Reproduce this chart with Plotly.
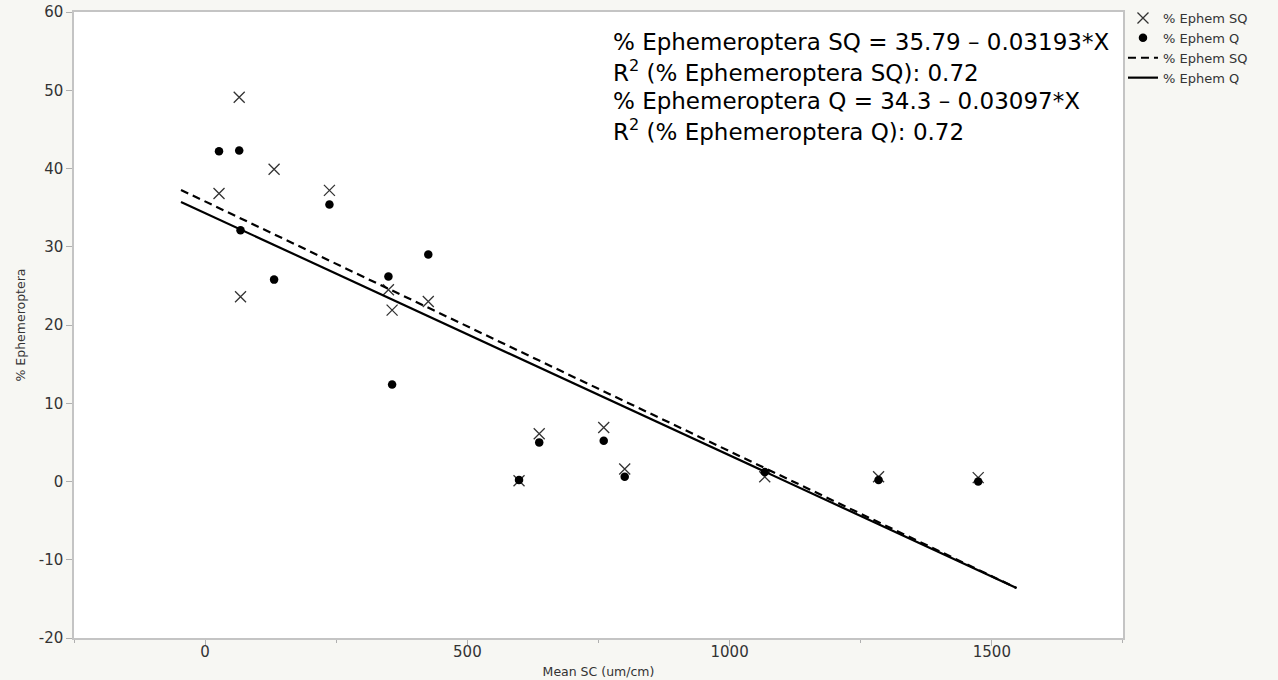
import plotly.graph_objects as go

# ---- data ----
mean_sc = [26.5, 65, 67.5, 131.5, 237, 349.5, 356.5, 425.5, 598.5, 637, 760, 800, 1067, 1284, 1474]
ephem_sq = [36.8, 49.1, 23.6, 39.9, 37.2, 24.5, 21.9, 23.0, 0.1, 6.1, 6.9, 1.6, 0.6, 0.6, 0.5]
ephem_q = [42.2, 42.3, 32.1, 25.8, 35.4, 26.2, 12.4, 29.0, 0.2, 5.0, 5.2, 0.6, 1.2, 0.2, 0.0]

fit_x = [-46, 1547]
sq_intercept, sq_slope = 35.79, -0.03193
q_intercept, q_slope = 34.3, -0.03097

equation_lines = [
    "% Ephemeroptera SQ = 35.79 \u2013 0.03193*X",
    "R<sup>2</sup> (% Ephemeroptera SQ): 0.72",
    "% Ephemeroptera Q = 34.3 \u2013 0.03097*X",
    "R<sup>2</sup> (% Ephemeroptera Q): 0.72",
]
equation_y = [0.952, 0.905, 0.858, 0.812]

x_ticks = [0, 500, 1000, 1500]
x_labels = ["0", "500", "1000", "1500"]
y_ticks = [-20, -10, 0, 10, 20, 30, 40, 50, 60]
y_labels = ["-20", "-10", "0", "10", "20", "30", "40", "50", "60"]

FONT = "DejaVu Sans"
INK = "#333333"

fig = go.Figure()
fig.add_trace(go.Scatter(
    x=mean_sc, y=ephem_sq, mode="markers", name="% Ephem SQ",
    marker=dict(symbol="x-thin", size=11, color="#333333",
                line=dict(width=1.3, color="#333333")),
))
fig.add_trace(go.Scatter(
    x=mean_sc, y=ephem_q, mode="markers", name="% Ephem Q",
    marker=dict(symbol="circle", size=8.5, color="black"),
))
fig.add_trace(go.Scatter(
    x=fit_x, y=[sq_intercept + sq_slope * v for v in fit_x], mode="lines",
    name="% Ephem SQ", line=dict(color="black", width=2.2, dash="8px,5px"),
))
fig.add_trace(go.Scatter(
    x=fit_x, y=[q_intercept + q_slope * v for v in fit_x], mode="lines",
    name="% Ephem Q", line=dict(color="black", width=2.2),
))

for txt, yy in zip(equation_lines, equation_y):
    fig.add_annotation(
        text=txt, xref="paper", yref="paper", x=0.512, y=yy,
        xanchor="left", yanchor="middle", showarrow=False,
        font=dict(family=FONT, size=23, color="black"),
    )

axis_common = dict(
    showline=True, linecolor="#c4c4c4", linewidth=1.5, mirror=True,
    ticks="outside", ticklen=6, tickcolor="#b0b0b0", tickwidth=1,
    showgrid=False, zeroline=False, automargin=False,
    tickfont=dict(family=FONT, size=15, color=INK),
)

fig.update_xaxes(
    range=[-250, 1750], tickvals=x_ticks, ticktext=x_labels,
    ticklabelstandoff=-7,
    minor=dict(ticks="outside", ticklen=3, dtick=250, tick0=0, tickcolor="#b0b0b0"),
    title=dict(text="Mean SC (um/cm)", font=dict(family=FONT, size=12.5, color=INK), standoff=7),
    **axis_common,
)
fig.update_yaxes(
    range=[-20, 60], tickvals=y_ticks, ticktext=y_labels,
    title=dict(text="% Ephemeroptera", font=dict(family=FONT, size=12.5, color=INK), standoff=10),
    **axis_common,
)

fig.update_layout(
    width=1278, height=680,
    margin=dict(l=74, r=155, t=12, b=42),
    paper_bgcolor="#f7f7f3", plot_bgcolor="white",
    showlegend=True,
    legend=dict(xref="container", yref="container", x=0.8787, y=0.9956,
                xanchor="left", yanchor="top",
                bgcolor="rgba(0,0,0,0)", font=dict(family=FONT, size=13, color=INK),
                tracegroupgap=0),
)

fig.write_html("out.html")
